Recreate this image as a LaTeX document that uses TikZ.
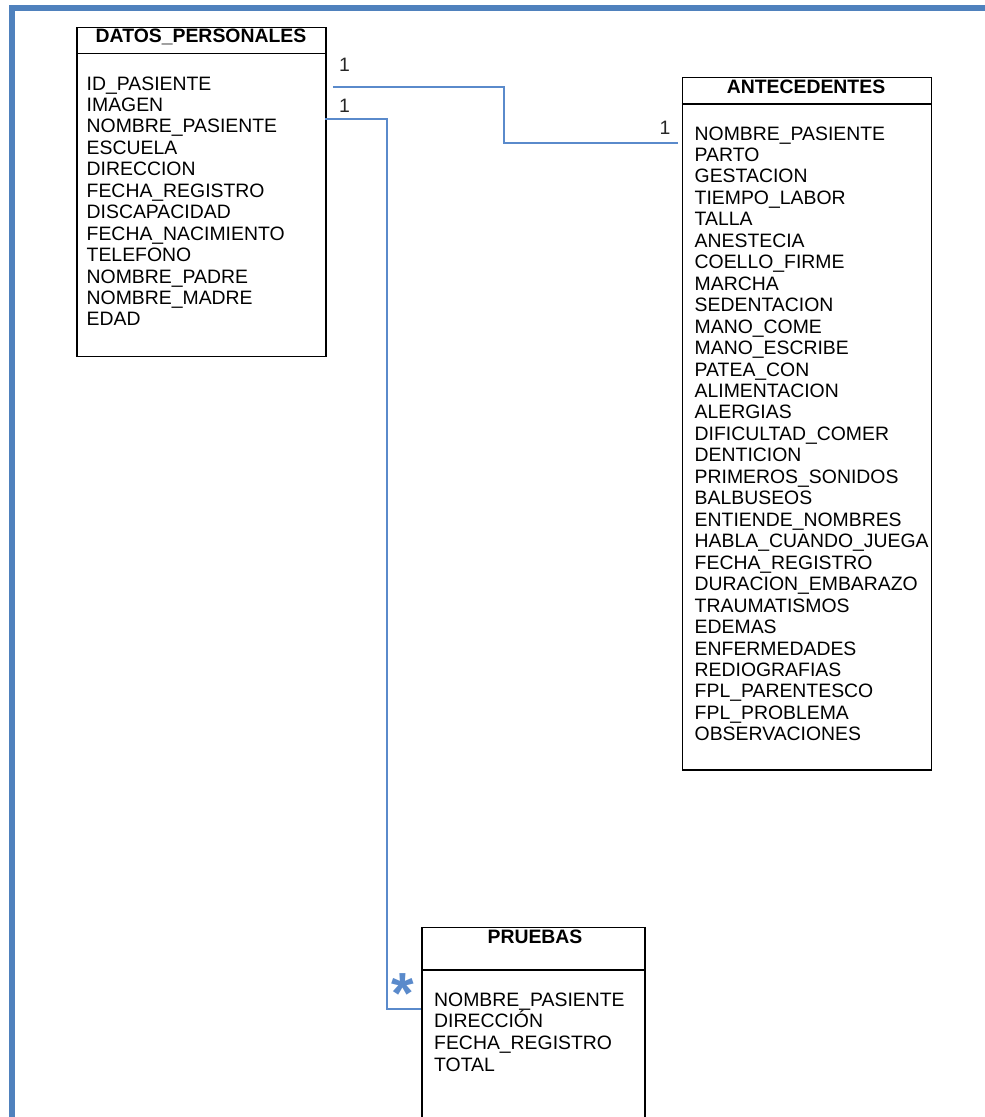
\documentclass[tikz,border=0pt]{standalone}
\usepackage{fontspec}
\setmainfont{Liberation Sans}
\definecolor{frameblue}{HTML}{4F81BD}
\definecolor{linkblue}{HTML}{5A8ACB}
\begin{document}
\begin{tikzpicture}[x=1pt,y=-1pt,
  tbl/.style={draw=black,line width=1.8pt,inner sep=0pt,anchor=north west},
  ttl/.style={font=\fontsize{19.4}{21}\selectfont\bfseries,anchor=base,inner sep=0pt},
  attr/.style={font=\fontsize{19.4}{21}\selectfont,anchor=base west,inner sep=0pt},
  card/.style={font=\fontsize{19.4}{21}\selectfont,anchor=base,inner sep=0pt,text=black!85},
  link/.style={draw=linkblue,line width=1.6pt}]
\useasboundingbox (0,0) rectangle (985,1117);
% frame
\draw[frameblue,line width=6pt] (11.7,1120) -- (11.7,7.5) -- (990,7.5);
% DATOS_PERSONALES
\node[tbl,minimum width=249pt,minimum height=329pt] (dp) at (76,26.5) {};
\draw[line width=1.8pt] (dp.west |- 0,53.5) -- (dp.east |- 0,53.5);
\node[ttl] (dpt) at (201,42) {DATOS\_PERSONALES};
\foreach \t [count=\i] in {ID\_PASIENTE,IMAGEN,NOMBRE\_PASIENTE,ESCUELA,DIRECCION,FECHA\_REGISTRO,DISCAPACIDAD,FECHA\_NACIMIENTO,TELEFONO,NOMBRE\_PADRE,NOMBRE\_MADRE,EDAD}
  \node[attr] (dp\i) at (86.5,{90+(\i-1)*21.45}) {\t};
% ANTECEDENTES
\node[tbl,minimum width=249pt,minimum height=692.5pt] (ant) at (681.5,76.5) {};
\draw[line width=1.8pt] (ant.west |- 0,104) -- (ant.east |- 0,104);
\node[ttl] (antt) at (806,93) {ANTECEDENTES};
\foreach \t [count=\i] in {NOMBRE\_PASIENTE,PARTO,GESTACION,TIEMPO\_LABOR,TALLA,ANESTECIA,COELLO\_FIRME,MARCHA,SEDENTACION,MANO\_COME,MANO\_ESCRIBE,PATEA\_CON,ALIMENTACION,ALERGIAS,DIFICULTAD\_COMER,DENTICION,PRIMEROS\_SONIDOS,BALBUSEOS,ENTIENDE\_NOMBRES,HABLA\_CUANDO\_JUEGA,FECHA\_REGISTRO,DURACION\_EMBARAZO,TRAUMATISMOS,EDEMAS,ENFERMEDADES,REDIOGRAFIAS,FPL\_PARENTESCO,FPL\_PROBLEMA,OBSERVACIONES}
  \node[attr] (ant\i) at (694.5,{140+(\i-1)*21.46}) {\t};
% PRUEBAS
\node[tbl,minimum width=223pt,minimum height=220pt] (pru) at (421,926.5) {};
\draw[line width=1.8pt] (pru.west |- 0,970) -- (pru.east |- 0,970);
\node[ttl] (prut) at (535,943) {PRUEBAS};
\foreach \t [count=\i] in {NOMBRE\_PASIENTE,DIRECCIÓN,FECHA\_REGISTRO,TOTAL}
  \node[attr] (pru\i) at (434,{1006+(\i-1)*21.7}) {\t};
% connectors
\draw[link] ([xshift=6pt]dp.east |- 0,86.7) -- (504,86.7) -- (504,143) -- ([xshift=-4pt]ant.west |- 0,143);
\draw[link] ([xshift=-2pt]dp.east |- 0,119) -- (387,119) -- (387,1009) -- (pru.west |- 0,1009);
% cardinalities
\node[card] (c1) at (344.5,71) {1};
\node[card] (c2) at (344.5,112) {1};
\node[card] (c3) at (665,134) {1};
\node[font=\fontsize{58}{60}\selectfont\bfseries,text=linkblue,anchor=base,inner sep=0pt] (c4) at (403,1013) {*};
\end{tikzpicture}
\end{document}
